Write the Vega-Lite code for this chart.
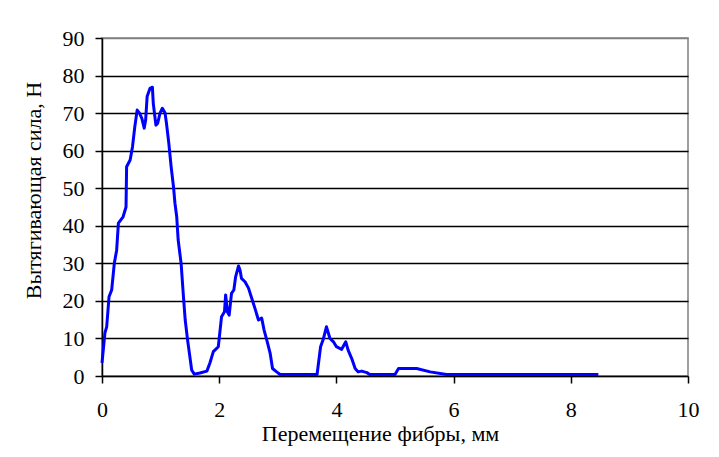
{
  "$schema": "https://vega.github.io/schema/vega-lite/v6.json",
  "width": 586,
  "height": 338,
  "autosize": "none",
  "padding": {"left": 102, "top": 38, "right": 31, "bottom": 81},
  "background": "white",
  "config": {
    "font": "Liberation Serif",
    "view": {"stroke": "#808080", "strokeWidth": 1.5},
    "axis": {
      "labelFont": "Liberation Serif",
      "titleFont": "Liberation Serif",
      "labelFontSize": 22,
      "titleFontSize": 22,
      "titleFontWeight": "normal",
      "labelColor": "black",
      "titleColor": "black",
      "domainColor": "black",
      "domainWidth": 1.5,
      "tickColor": "black",
      "tickWidth": 1.5,
      "tickSize": 7
    }
  },
  "data": {
    "values": [
      {"x": 0.0, "y": 3.5},
      {"x": 0.05, "y": 11.5},
      {"x": 0.08, "y": 13.1},
      {"x": 0.12, "y": 21.1},
      {"x": 0.165, "y": 22.9},
      {"x": 0.21, "y": 30},
      {"x": 0.25, "y": 33.5},
      {"x": 0.28, "y": 40.7},
      {"x": 0.36, "y": 42.4},
      {"x": 0.41, "y": 45},
      {"x": 0.42, "y": 55.7},
      {"x": 0.48, "y": 57.5},
      {"x": 0.52, "y": 61},
      {"x": 0.56, "y": 66.4},
      {"x": 0.6, "y": 70.8},
      {"x": 0.64, "y": 70},
      {"x": 0.68, "y": 68.6},
      {"x": 0.72, "y": 66},
      {"x": 0.745, "y": 68.2},
      {"x": 0.77, "y": 74.4},
      {"x": 0.82, "y": 76.6},
      {"x": 0.86, "y": 76.9},
      {"x": 0.875, "y": 72.6},
      {"x": 0.92, "y": 66.8},
      {"x": 0.95, "y": 67.3},
      {"x": 0.99, "y": 70},
      {"x": 1.03, "y": 71.3},
      {"x": 1.075, "y": 70.1},
      {"x": 1.1, "y": 67.3},
      {"x": 1.14, "y": 62},
      {"x": 1.18, "y": 55.7},
      {"x": 1.22, "y": 50.4},
      {"x": 1.245, "y": 46},
      {"x": 1.275, "y": 42.4},
      {"x": 1.3, "y": 36.2},
      {"x": 1.35, "y": 30},
      {"x": 1.39, "y": 21.1},
      {"x": 1.42, "y": 14.9},
      {"x": 1.46, "y": 9.6},
      {"x": 1.5, "y": 5.1},
      {"x": 1.53, "y": 1.6},
      {"x": 1.575, "y": 0.5},
      {"x": 1.67, "y": 0.8},
      {"x": 1.79, "y": 1.3},
      {"x": 1.84, "y": 3.4},
      {"x": 1.9, "y": 6.5},
      {"x": 1.985, "y": 7.8},
      {"x": 2.04, "y": 15.8},
      {"x": 2.09, "y": 17.1},
      {"x": 2.11, "y": 21.6},
      {"x": 2.14, "y": 17.1},
      {"x": 2.17, "y": 16.2},
      {"x": 2.21, "y": 22},
      {"x": 2.25, "y": 22.9},
      {"x": 2.28, "y": 26.4},
      {"x": 2.33, "y": 29.3},
      {"x": 2.355, "y": 28.2},
      {"x": 2.38, "y": 26},
      {"x": 2.44, "y": 25.1},
      {"x": 2.5, "y": 23.4},
      {"x": 2.555, "y": 20.7},
      {"x": 2.61, "y": 18},
      {"x": 2.67, "y": 14.9},
      {"x": 2.725, "y": 15.4},
      {"x": 2.765, "y": 12.3},
      {"x": 2.82, "y": 9.1},
      {"x": 2.87, "y": 6},
      {"x": 2.91, "y": 2},
      {"x": 2.98, "y": 1.1},
      {"x": 3.04, "y": 0.4},
      {"x": 3.67, "y": 0.4},
      {"x": 3.73, "y": 7.8},
      {"x": 3.78, "y": 10},
      {"x": 3.83, "y": 13.1},
      {"x": 3.89, "y": 10},
      {"x": 3.95, "y": 9.1},
      {"x": 4.0, "y": 7.8},
      {"x": 4.09, "y": 7.1},
      {"x": 4.16, "y": 9.1},
      {"x": 4.2, "y": 6.9},
      {"x": 4.26, "y": 4.7},
      {"x": 4.32, "y": 2},
      {"x": 4.37, "y": 1.1},
      {"x": 4.43, "y": 1.3},
      {"x": 4.52, "y": 0.9},
      {"x": 4.57, "y": 0.4},
      {"x": 5.0, "y": 0.4},
      {"x": 5.06, "y": 2},
      {"x": 5.37, "y": 2},
      {"x": 5.6, "y": 1.1},
      {"x": 5.88, "y": 0.4},
      {"x": 8.47, "y": 0.4}
    ]
  },
  "mark": {"type": "line", "color": "#0000FF", "strokeWidth": 3, "strokeJoin": "round"},
  "encoding": {
    "x": {
      "field": "x",
      "type": "quantitative",
      "scale": {"domain": [0, 10], "nice": false, "zero": false},
      "axis": {
        "values": [0, 2, 4, 6, 8, 10],
        "format": "d",
        "grid": false,
        "title": "Перемещение фибры, мм",
        "labelFont": "Times New Roman",
        "titleFont": "Liberation Serif",
        "labelBaseline": "alphabetic",
        "labelPadding": 33,
        "labelFlush": false,
        "titleX": 278,
        "titleY": 64,
        "titleAnchor": null,
        "titleAlign": "center",
        "titleBaseline": "alphabetic"
      }
    },
    "y": {
      "field": "y",
      "type": "quantitative",
      "scale": {"domain": [0, 90], "nice": false},
      "axis": {
        "values": [0, 10, 20, 30, 40, 50, 60, 70, 80, 90],
        "format": "d",
        "grid": true,
        "gridColor": {"condition": {"test": "datum.value === 90 || datum.value === 0", "value": "#808080"}, "value": "black"},
        "gridWidth": 1.5,
        "title": "Вытягивающая сила, Н",
        "labelFont": "Times New Roman",
        "titleFont": "Liberation Serif",
        "labelPadding": 11,
        "labelBaseline": "middle",
        "labelFlush": false,
        "titleX": -69,
        "titleY": 152,
        "titleAngle": 270,
        "titleAlign": "center",
        "titleBaseline": "middle"
      }
    }
  }
}
